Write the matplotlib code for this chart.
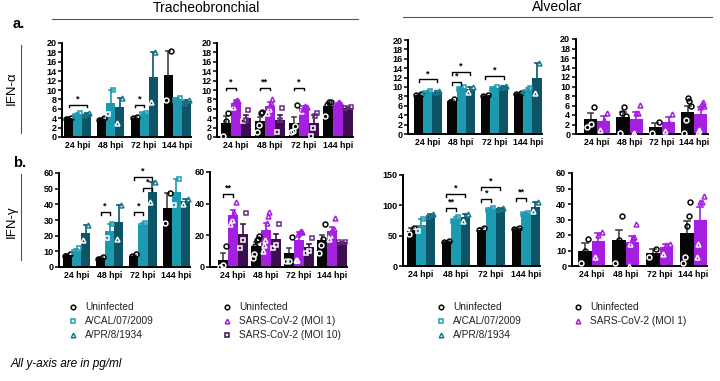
import numpy as np
import matplotlib
matplotlib.use("Agg")
import matplotlib.pyplot as plt
from matplotlib.lines import Line2D

plt.rcParams['font.family'] = ['Liberation Sans', 'DejaVu Sans']

# ---------------- data ----------------
hpi = ['24 hpi', '48 hpi', '72 hpi', '144 hpi']

# Tracheobronchial IFN-alpha, influenza
ta_flu_unin = [4.1, 3.8, 4.1, 13.1]
ta_flu_unin_err = [0.1, 0.2, 0.1, 5.2]
ta_flu_unin_pts = [[3.9, 4.1], [3.6, 4.0], [4.0, 4.2], [7.9, 18.3]]
ta_flu_cal = [4.8, 7.3, 4.9, 8.0]
ta_flu_cal_err = [0.2, 2.6, 0.1, 0.3]
ta_flu_cal_pts = [[4.5, 5.0], [4.9, 9.9], [4.9, 5.0], [7.8, 8.3]]
ta_flu_pr8 = [4.8, 6.3, 12.7, 7.6]
ta_flu_pr8_err = [0.2, 1.9, 5.4, 0.3]
ta_flu_pr8_pts = [[4.6, 5.0], [3.0, 8.2], [7.5, 18.0], [7.3, 7.9]]

# Tracheobronchial IFN-alpha, SARS-CoV-2
ta_cov_unin = [3.0, 3.4, 2.9, 6.6]
ta_cov_unin_err = [1.4, 0.8, 1.3, 0.7]
ta_cov_unin_pts = [[0.2, 3.3, 5.2], [1.0, 2.6, 5.0, 5.3], [1.0, 1.3, 2.4, 6.9], [4.5, 6.8, 7.4, 7.5]]
ta_cov_moi1 = [7.3, 6.7, 6.1, 6.9]
ta_cov_moi1_err = [0.6, 0.8, 0.5, 0.3]
ta_cov_moi1_pts = [[6.3, 7.3, 7.6, 7.9, 7.6], [5.2, 6.0, 6.8, 7.3, 8.1],
                   [5.6, 6.0, 6.2, 6.5, 6.4], [6.5, 6.8, 7.2, 7.4, 7.0]]
ta_cov_moi10 = [4.1, 3.7, 3.0, 6.2]
ta_cov_moi10_err = [0.6, 0.9, 1.6, 0.1]
ta_cov_moi10_pts = [[3.4, 3.7, 5.7], [1.0, 3.6, 6.2], [0.2, 2.0, 4.5, 5.0], [6.2, 6.3]]

# Alveolar IFN-alpha, influenza
aa_flu_unin = [8.4, 7.1, 8.2, 8.7]
aa_flu_unin_err = [0.1, 0.2, 0.2, 0.1]
aa_flu_unin_pts = [[8.3, 8.5], [6.9, 7.4], [8.0, 8.4], [8.6, 8.8]]
aa_flu_cal = [8.9, 9.8, 9.8, 9.3]
aa_flu_cal_err = [0.3, 0.2, 0.2, 0.5]
aa_flu_cal_pts = [[8.7, 9.2], [9.6, 10.0], [9.5, 10.0], [8.9, 9.8]]
aa_flu_pr8 = [9.0, 9.5, 10.1, 12.0]
aa_flu_pr8_err = [0.1, 0.5, 0.1, 3.1]
aa_flu_pr8_pts = [[8.9, 9.1], [9.0, 9.9], [10.0, 10.2], [8.8, 15.1]]

# Alveolar IFN-alpha, SARS-CoV-2
aa_cov_unin = [3.1, 3.5, 1.4, 4.7]
aa_cov_unin_err = [1.4, 1.1, 0.9, 1.3]
aa_cov_unin_pts = [[1.5, 2.1, 5.7], [0.2, 4.5, 5.7, 3.8], [0.3, 2.6], [0.2, 2.9, 7.5, 6.9, 6.0]]
aa_cov_moi1 = [2.7, 3.1, 2.5, 4.3]
aa_cov_moi1_err = [1.0, 1.5, 1.0, 1.4]
aa_cov_moi1_pts = [[0.8, 2.9, 4.4], [0.0, 0.2, 4.5, 4.5, 6.2], [0.7, 2.3, 4.3],
                   [0.5, 0.9, 5.7, 6.3, 6.8, 6.0]]

# Tracheobronchial IFN-gamma, influenza
tg_flu_unin = [7.5, 5.7, 7.3, 37.5]
tg_flu_unin_err = [0.5, 0.5, 0.6, 9.5]
tg_flu_unin_pts = [[7.0, 8.0], [5.3, 6.2], [6.8, 8.0], [28, 47]]
tg_flu_cal = [10.5, 23, 27, 48]
tg_flu_cal_err = [1.3, 4.5, 1.0, 8.2]
tg_flu_cal_pts = [[9.5, 12.0], [18.5, 27.5], [26, 28], [39.5, 56]]
tg_flu_pr8 = [22, 28.5, 48, 42]
tg_flu_pr8_err = [4.5, 11, 6.5, 1.2]
tg_flu_pr8_pts = [[17.5, 26.5], [18, 39.5], [41.5, 54.5], [40.5, 43.2]]

# Tracheobronchial IFN-gamma, SARS-CoV-2
tg_cov_unin = [4.7, 13.5, 9, 17]
tg_cov_unin_err = [4.2, 2.5, 3.2, 3.2]
tg_cov_unin_pts = [[0.2, 1.0, 13.0], [6.0, 8.0, 13.0, 17.0, 18.0, 19.5], [4.0, 4.0, 19.0], [9, 14, 18, 27]]
tg_cov_moi1 = [33, 23.5, 17, 22.5]
tg_cov_moi1_err = [2.8, 4.5, 5.0, 2.5]
tg_cov_moi1_pts = [[27, 30, 33, 34, 41], [10, 14, 17, 23, 28, 32, 35],
                   [4.5, 4.5, 21, 22, 23, 22], [18, 20, 22, 23, 24, 31]]
tg_cov_moi10 = [21, 17.5, 12.5, 15.5]
tg_cov_moi10_err = [6.2, 3.5, 2.0, 0.3]
tg_cov_moi10_pts = [[12, 17, 34], [12, 14, 27], [9, 10, 18.5], [15.5, 15.8]]

# Alveolar IFN-gamma, influenza
ag_flu_unin = [58, 41, 60, 62]
ag_flu_unin_err = [5, 1, 3, 1]
ag_flu_unin_pts = [[53, 63], [40, 42], [59, 63], [61, 63]]
ag_flu_cal = [67, 77, 94, 87]
ag_flu_cal_err = [10, 3, 2, 1]
ag_flu_cal_pts = [[58, 77], [75, 80], [93, 96], [86, 88]]
ag_flu_pr8 = [84, 80, 95, 98]
ag_flu_pr8_err = [2, 5, 1, 8]
ag_flu_pr8_pts = [[83, 86], [75, 85], [94, 96], [90, 106]]

# Alveolar IFN-gamma, SARS-CoV-2
ag_cov_unin = [10, 17, 8.5, 21.5]
ag_cov_unin_err = [5, 6, 2.5, 7.5]
ag_cov_unin_pts = [[2, 10, 17.5], [2, 17, 32], [6, 11], [2, 6, 26, 32, 41]]
ag_cov_moi1 = [16, 15.5, 12, 29.5]
ag_cov_moi1_err = [5, 4, 2, 8.5]
ag_cov_moi1_pts = [[6, 20, 22], [0, 14, 17, 18, 19, 27], [8, 13.5, 14.5], [6, 14, 41, 41, 45]]

# significance brackets: (group, bar_i, bar_j, y, label)
sig_ta_flu = [(0, 0, 2, 6.9, '*'), (2, 0, 1, 6.9, '*')]
sig_ta_cov = [(0, 0, 1, 10.5, '*'), (1, 0, 1, 10.5, '**'), (2, 0, 1, 10.5, '*')]
sig_aa_flu = [(0, 0, 2, 11.6, '*'), (1, 0, 1, 11.1, '*'), (1, 0, 2, 13.1, '*'), (2, 0, 2, 12.3, '*')]
sig_aa_cov = []
sig_tg_flu = [(1, 0, 1, 34.9, '*'), (2, 0, 1, 34.9, '*'), (2, 1, 2, 50.4, '*'), (2, 0, 2, 57.2, '*')]
sig_tg_cov = [(0, 0, 1, 46, '**')]
sig_ag_flu = [(1, 0, 1, 95, '**'), (1, 0, 2, 118.6, '*'), (2, 0, 1, 110, '*'),
              (2, 0, 2, 130, '*'), (3, 0, 1, 112, '**')]
sig_ag_cov = []

# ---------------- styles ----------------
C_UNIN = '#050505'
C_CAL = '#1b9ab0'
C_PR8 = '#0d5469'
C_PR8_MK = '#1a7a8e'
C_MOI1 = '#a51fe0'
C_MOI10 = '#3c0e4f'

W, H = 720, 381
fig = plt.figure(figsize=(7.2, 3.81), dpi=100)


def fx(x):
    return x / W


def fy(y):
    return 1 - y / H


def draw_panel(layout, series, sigs, ymax, yticks):
    L, S, P, Gw, T, B = layout
    n = len(series)
    R = S + 3 * P + Gw
    ax = fig.add_axes([fx(L), fy(B), (R - L) / W, (B - T) / H])
    c0 = S + Gw / 2
    ax.set_xlim((L - c0) / P, (R - c0) / P)
    ax.set_ylim(0, ymax)
    bw = Gw / P / n
    x = np.arange(len(hpi))
    for k, (means, errs, pts, col, mk, mkcol) in enumerate(series):
        xs = x + (k - (n - 1) / 2) * bw
        ax.bar(xs, means, width=bw, color=col, edgecolor='none', zorder=2)
        ecol = '#444444' if col == C_UNIN else col
        for xi, m, e in zip(xs, means, errs):
            ax.plot([xi, xi], [m, m + e], color=ecol, lw=1.2, zorder=3, solid_capstyle='butt')
            ax.plot([xi - bw * 0.22, xi + bw * 0.22], [m + e, m + e], color=ecol, lw=1.2, zorder=3)
        for xi, m, p in zip(xs, means, pts):
            cnt = len(p)
            offs = np.linspace(-0.26, 0.26, cnt) * bw if cnt > 1 else [0.0]
            for o, v in zip(offs, p):
                ec = 'white' if v < m - ymax * 0.02 else mkcol
                ax.plot(xi + o, v, marker=mk, ms=3.5, mfc='none', mec=ec, mew=1.1,
                        zorder=4, clip_on=False, ls='none')
    tick = ymax * 0.03
    for g, i, j, yv, lab in sigs:
        xi = g + (i - (n - 1) / 2) * bw
        xj = g + (j - (n - 1) / 2) * bw
        ax.plot([xi, xi, xj, xj], [yv - tick, yv, yv, yv - tick], color='black', lw=1.0, zorder=5)
        ax.text((xi + xj) / 2, yv + ymax * 0.015, lab, ha='center', va='bottom',
                fontsize=6.5, fontweight='bold')
    for sp in ['top', 'right']:
        ax.spines[sp].set_visible(False)
    for sp in ['left', 'bottom']:
        ax.spines[sp].set_linewidth(1.4)
    ax.set_yticks(yticks)
    ax.set_yticklabels([str(t) for t in yticks], fontsize=6.5, fontweight='bold')
    ax.set_xticks(x)
    ax.set_xticklabels(hpi, fontsize=6.3, fontweight='bold')
    ax.tick_params(axis='y', length=3, width=1.1, pad=1)
    ax.tick_params(axis='x', length=0, pad=3)
    ax.patch.set_alpha(0)
    return ax


yt20 = list(range(0, 21, 2))
draw_panel((62, 64, 33.3, 27, 43, 137),
           [(ta_flu_unin, ta_flu_unin_err, ta_flu_unin_pts, C_UNIN, 'o', C_UNIN),
            (ta_flu_cal, ta_flu_cal_err, ta_flu_cal_pts, C_CAL, 's', C_CAL),
            (ta_flu_pr8, ta_flu_pr8_err, ta_flu_pr8_pts, C_PR8, '^', C_PR8_MK)],
           sig_ta_flu, 20, yt20)
draw_panel((217, 220.7, 34.1, 30, 43, 137),
           [(ta_cov_unin, ta_cov_unin_err, ta_cov_unin_pts, C_UNIN, 'o', C_UNIN),
            (ta_cov_moi1, ta_cov_moi1_err, ta_cov_moi1_pts, C_MOI1, '^', C_MOI1),
            (ta_cov_moi10, ta_cov_moi10_err, ta_cov_moi10_pts, C_MOI10, 's', '#6a2a85')],
           sig_ta_cov, 20, yt20)
draw_panel((408, 414, 33.3, 27.7, 40, 134),
           [(aa_flu_unin, aa_flu_unin_err, aa_flu_unin_pts, C_UNIN, 'o', C_UNIN),
            (aa_flu_cal, aa_flu_cal_err, aa_flu_cal_pts, C_CAL, 's', C_CAL),
            (aa_flu_pr8, aa_flu_pr8_err, aa_flu_pr8_pts, C_PR8, '^', C_PR8_MK)],
           sig_aa_flu, 20, yt20)
draw_panel((575.7, 584, 32.4, 26.3, 39, 134),
           [(aa_cov_unin, aa_cov_unin_err, aa_cov_unin_pts, C_UNIN, 'o', C_UNIN),
            (aa_cov_moi1, aa_cov_moi1_err, aa_cov_moi1_pts, C_MOI1, '^', C_MOI1)],
           sig_aa_cov, 20, yt20)
draw_panel((59.3, 62.7, 33.3, 27.5, 173, 267),
           [(tg_flu_unin, tg_flu_unin_err, tg_flu_unin_pts, C_UNIN, 'o', C_UNIN),
            (tg_flu_cal, tg_flu_cal_err, tg_flu_cal_pts, C_CAL, 's', C_CAL),
            (tg_flu_pr8, tg_flu_pr8_err, tg_flu_pr8_pts, C_PR8, '^', C_PR8_MK)],
           sig_tg_flu, 60, list(range(0, 61, 10)))
draw_panel((210, 218, 33, 30, 172, 267),
           [(tg_cov_unin, tg_cov_unin_err, tg_cov_unin_pts, C_UNIN, 'o', C_UNIN),
            (tg_cov_moi1, tg_cov_moi1_err, tg_cov_moi1_pts, C_MOI1, '^', C_MOI1),
            (tg_cov_moi10, tg_cov_moi10_err, tg_cov_moi10_pts, C_MOI10, 's', '#6a2a85')],
           sig_tg_cov, 60, [0, 20, 40, 60])
draw_panel((403.3, 406.7, 35, 28.5, 175, 266),
           [(ag_flu_unin, ag_flu_unin_err, ag_flu_unin_pts, C_UNIN, 'o', C_UNIN),
            (ag_flu_cal, ag_flu_cal_err, ag_flu_cal_pts, C_CAL, 's', C_CAL),
            (ag_flu_pr8, ag_flu_pr8_err, ag_flu_pr8_pts, C_PR8, '^', C_PR8_MK)],
           sig_ag_flu, 150, [0, 50, 100, 150])
draw_panel((571.7, 578, 34, 27, 173, 266),
           [(ag_cov_unin, ag_cov_unin_err, ag_cov_unin_pts, C_UNIN, 'o', C_UNIN),
            (ag_cov_moi1, ag_cov_moi1_err, ag_cov_moi1_pts, C_MOI1, '^', C_MOI1)],
           sig_ag_cov, 60, list(range(0, 61, 10)))

# ---------------- figure annotations ----------------
fig.text(fx(206), fy(8), 'Tracheobronchial', ha='center', va='center', fontsize=10)
fig.text(fx(557), fy(7), 'Alveolar', ha='center', va='center', fontsize=10)
fig.add_artist(Line2D([fx(52), fx(358)], [fy(19), fy(19)], color='#555555', lw=0.8))
fig.add_artist(Line2D([fx(403), fx(712)], [fy(17), fy(17)], color='#555555', lw=0.8))
fig.text(fx(13), fy(24), 'a.', ha='left', va='center', fontsize=10.5, fontweight='bold')
fig.text(fx(13), fy(163), 'b.', ha='left', va='center', fontsize=10.5, fontweight='bold')
fig.text(fx(12), fy(88), 'IFN-α', rotation=90, ha='center', va='center', fontsize=9.5)
fig.text(fx(12), fy(222), 'IFN-γ', rotation=90, ha='center', va='center', fontsize=9.5)
fig.add_artist(Line2D([fx(21), fx(21)], [fy(45), fy(133)], color='#555555', lw=0.8))
fig.add_artist(Line2D([fx(21), fx(21)], [fy(174), fy(260)], color='#555555', lw=0.8))

legend_rows_y = [307, 321, 335]
legends = [
    (73, [('o', C_UNIN, 'Uninfected'), ('s', C_CAL, 'A/CAL/07/2009'), ('^', C_PR8_MK, 'A/PR/8/1934')]),
    (227, [('o', C_UNIN, 'Uninfected'), ('^', C_MOI1, 'SARS-CoV-2 (MOI 1)'), ('s', C_MOI10, 'SARS-CoV-2 (MOI 10)')]),
    (441, [('o', C_UNIN, 'Uninfected'), ('s', C_CAL, 'A/CAL/07/2009'), ('^', C_PR8_MK, 'A/PR/8/1934')]),
    (578, [('o', C_UNIN, 'Uninfected'), ('^', C_MOI1, 'SARS-CoV-2 (MOI 1)')]),
]
for x0, items in legends:
    for (mk, col, lab), yy in zip(items, legend_rows_y):
        fig.add_artist(Line2D([fx(x0)], [fy(yy)], marker=mk, ms=3.3, mfc='none', mec=col, mew=1.1, ls='none'))
        fig.text(fx(x0 + 12), fy(yy), lab, ha='left', va='center', fontsize=7.3, color='#222222')

fig.text(fx(11), fy(364), 'All y-axis are in pg/ml', ha='left', va='center', fontsize=8.5, style='italic')

fig.savefig('out.png', dpi=100)
